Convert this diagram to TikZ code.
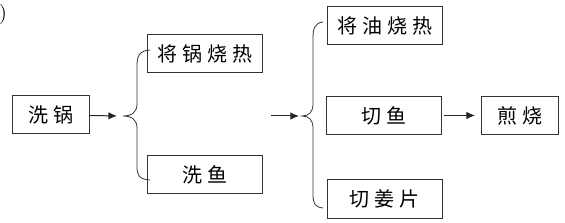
\documentclass[tikz,border=0pt]{standalone}
\usepackage{fontspec}
\usepackage{xcolor}
\usepackage{tikz}
\usetikzlibrary{arrows.meta,positioning}
\newfontfamily\cjkfont[LetterSpace=25]{Noto Sans CJK SC}

\begin{document}
\begin{tikzpicture}[
  x=0.5pt, y=-0.5pt,
  stepbox/.style={
    draw=black!80,
    line width=0.5pt,
    align=center,
    minimum width=57.5pt,
    minimum height=19pt,
    inner sep=2pt,
    font=\cjkfont\fontsize{10}{12}\selectfont
  },
  shortbox/.style={stepbox, minimum width=38.5pt},
  flow/.style={-{Latex[length=1.5mm,width=1.3mm]}, line width=0.5pt, black!85},
  brace/.style={line width=0.4pt, black!80}
]
\useasboundingbox (0,0) rectangle (565,223);

% first step and the two things done next
\node[shortbox] (washpot) at (50.5,115) {洗锅};
\node[stepbox] (heatpot) at (205,53.5) {将锅烧热};
\node[stepbox] (washfish) at (204.5,174.5) {洗鱼};

% the three parallel steps and the last one
\node[stepbox] (heatoil) at (385,25.5) {将油烧热};
\node[stepbox] (cutfish) at (384,115.5) {切鱼};
\node[stepbox] (ginger) at (384.5,199) {切姜片};
\node[shortbox] (fry) at (520,115.5) {煎烧};

% part of the label cut off at the left edge
\node[font=\fontsize{10}{12}\selectfont, inner sep=0pt] (paren) at (3,15) {)};

% braces
\coordinate (tipA) at (123,116);
\coordinate (tipB) at (302,116);
\coordinate (start2) at (271,116);

\draw[brace] (150,50) .. controls (139,51) and (137,56) .. (137,66)
  -- (137,104) .. controls (137,112) and (132,116) .. (tipA)
  .. controls (132,116) and (137,120) .. (137,128)
  -- (137,166) .. controls (137,176) and (139,179) .. (150,180);
\draw[brace] (323,22) .. controls (315,23) and (313,28) .. (313,38)
  -- (313,104) .. controls (313,112) and (309,116) .. (tipB)
  .. controls (309,116) and (313,120) .. (313,128)
  -- (313,194) .. controls (313,204) and (315,207) .. (323,208);

% arrows
\draw[flow, shorten >=3pt] (washpot) -- (tipA);
\draw[flow, shorten >=1.5pt] (start2) -- (tipB);
\draw[flow, shorten <=1pt, shorten >=3pt] (cutfish) -- (fry);
\end{tikzpicture}
\end{document}
